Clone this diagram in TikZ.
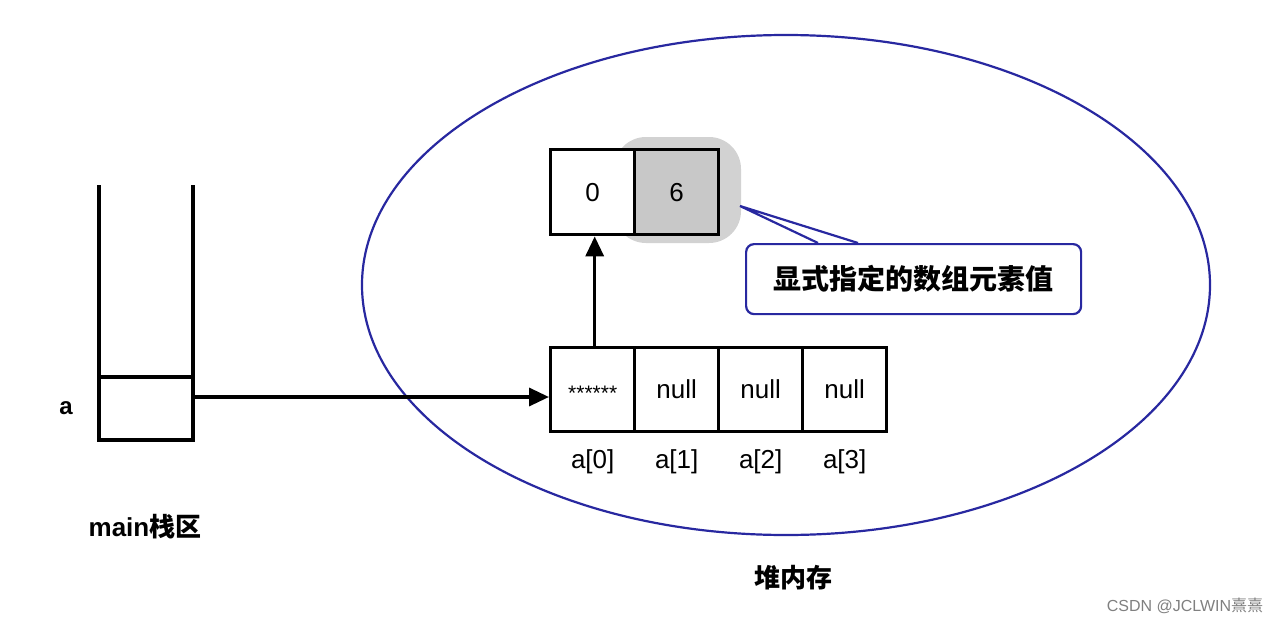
\documentclass[tikz,border=0pt]{standalone}
\usepackage{fontspec}
\setmainfont{Liberation Sans}
\newfontfamily\cjk{Noto Sans CJK SC}
\usetikzlibrary{arrows.meta}
\definecolor{ellblue}{HTML}{2828A0}
\definecolor{cellgray}{HTML}{C8C8C8}
\definecolor{halogray}{HTML}{D2D2D2}
\tikzset{
  thick line/.style={line width=3.4pt, line cap=rect},
  cell/.style={draw, line width=3.4pt, minimum width=84pt, minimum height=84pt, inner sep=0pt, font=\fontsize{26}{28}\selectfont, anchor=north west},
  idx/.style={font=\fontsize{26}{28}\selectfont},
  bigarrow/.style={line width=3.4pt, -{Triangle[length=20pt,width=18pt]}},
  cjklabel/.style={font=\cjk\bfseries\fontsize{26}{30}\selectfont},
}
\begin{document}
\begin{tikzpicture}[x=1pt,y=-1pt]
\useasboundingbox[fill=white] (0,0) rectangle (1280,624);
% heap ellipse
\draw[ellblue, line width=2.2pt] (786,285) ellipse [x radius=424, y radius=250];
% stack
\draw[thick line] (99,187) -- (99,440) -- (193,440) -- (193,187);
\draw[thick line] (99,377) -- (193,377);
\coordinate (aslot) at (193,397);
\node[font=\bfseries\fontsize{24}{28}\selectfont] (alabel) at (66,408) {a};
\node[font=\fontsize{26}{30}\selectfont] (mainlabel) at (145,527) {\bfseries main{\cjk\bfseries 栈区}};
% array cells
\node[cell] (c0) at (549,346) {};
\node[font=\fontsize{21}{24}\selectfont] (stars) at ([yshift=-4pt]c0.center) {******};
\node[cell] (c1) at (633,346) {null};
\node[cell] (c2) at (717,346) {null};
\node[cell] (c3) at (801,346) {null};
\node[idx] (i0) at ([yshift=-28pt]c0.south) {a[0]};
\node[idx] (i1) at ([yshift=-28pt]c1.south) {a[1]};
\node[idx] (i2) at ([yshift=-28pt]c2.south) {a[2]};
\node[idx] (i3) at ([yshift=-28pt]c3.south) {a[3]};
% highlight halo
\fill[halogray, rounded corners=32pt] (614,137) rectangle (741,243);
% inner array
\node[cell, minimum height=85pt, fill=white] (b0) at (549,148) {0};
\node[cell, minimum height=85pt, fill=cellgray] (b1) at (633,148) {6};
% arrows
\draw[bigarrow] (aslot) -- (aslot -| c0.west);
\draw[bigarrow] ([xshift=2pt]c0.north) -- ([xshift=2pt]b0.south);
% callout
\node[draw=ellblue, line width=2.2pt, rounded corners=8pt, fill=white, minimum width=335pt, minimum height=70pt, anchor=north west, font=\cjk\bfseries\fontsize{28}{32}\selectfont] (callout) at (745,243) {显式指定的数组元素值};
\coordinate (tip) at (740,206);
\coordinate (pa) at (818,243);
\coordinate (pb) at (858,243);
\fill[white] ([xshift=-1pt,yshift=2pt]pa) -- (tip) -- ([xshift=1pt,yshift=2pt]pb) -- cycle;
\draw[ellblue, line width=2.2pt, line join=miter] (pa) -- (tip) -- (pb);
% labels
\node[cjklabel] (heaplabel) at (793,578) {堆内存};
\node[text=gray, font=\fontsize{16}{18}\selectfont] (wm) at (1185,606) {CSDN @JCLWIN{\cjk 熹熹}};
\end{tikzpicture}
\end{document}
